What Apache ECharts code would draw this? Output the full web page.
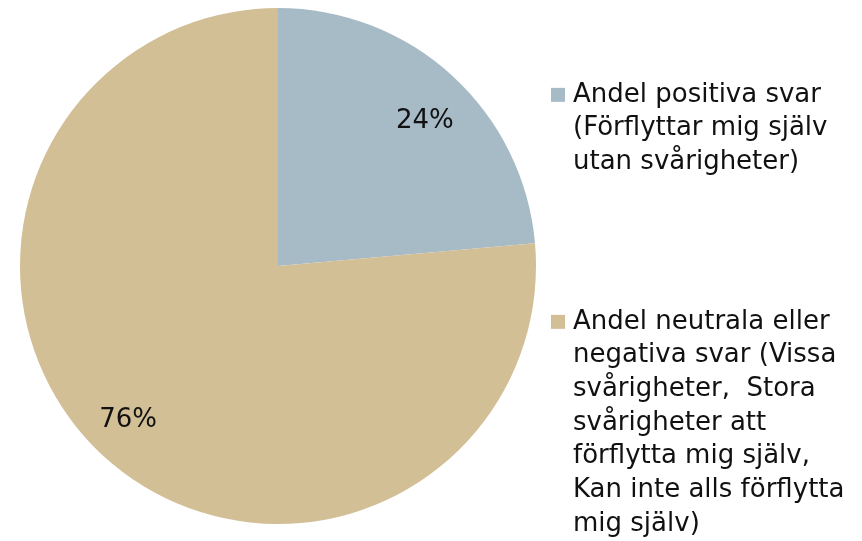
<!DOCTYPE html>
<html>
<head>
<meta charset="utf-8">
<script src="https://cdn.jsdelivr.net/npm/echarts@6/dist/echarts.min.js"></script>
<style>
  html, body { margin: 0; padding: 0; background: #fff; }
  #chart { width: 862px; height: 541px; }
</style>
</head>
<body>
<div id="chart"></div>
<script>
// data
const categories = ['Andel positiva svar', 'Andel neutrala eller negativa svar'];
const shares = [23.6, 76.4];
const legendLines = [
  ['Andel positiva svar', '(Förflyttar mig själv', 'utan svårigheter)'],
  ['Andel neutrala eller', 'negativa svar (Vissa', 'svårigheter,  Stora', 'svårigheter att',
   'förflytta mig själv,', 'Kan inte alls förflytta', 'mig själv)']
];
const colors = ['#A7BBC6', '#D3BF96'];

const font = '"DejaVu Sans", sans-serif';
const chart = echarts.init(document.getElementById('chart'));

const pieData = categories.map((name, i) => ({ name: name, value: shares[i] }));

// small nudges so the percent labels sit where the original had them
const labelData = pieData.map((d, i) => ({
  name: d.name,
  value: d.value,
  label: { offset: i === 0 ? [3, 12] : [-6, -3] }
}));

// legend text: square on first line, the rest indented under it
const legendText = (name) => {
  const i = categories.indexOf(name);
  return legendLines[i]
    .map((line, k) => (k === 0 ? '{sq' + i + '|}{g|}' : '{ind|}') + line)
    .join('\n');
};

// one legend per item so the tall second entry is not wrapped off screen
const legends = categories.map((name, i) => ({
  orient: 'vertical',
  left: 541,
  top: i === 0 ? 73 : 300,
  icon: 'none',
  itemWidth: 0,
  itemHeight: 14,
  selectedMode: false,
  data: [name],
  formatter: legendText,
  textStyle: {
    fontFamily: font,
    fontSize: 26,
    lineHeight: 33.7,
    color: '#111',
    rich: {
      sq0: { width: 14, height: 14, backgroundColor: colors[0] },
      sq1: { width: 14, height: 14, backgroundColor: colors[1] },
      g: { width: 8 },
      ind: { width: 22 }
    }
  }
}));

const option = {
  animation: false,
  color: colors,
  legend: legends,
  series: [
    {
      type: 'pie',
      center: [278, 266],
      radius: [0, 258],
      startAngle: 90,
      clockwise: true,
      silent: true,
      label: { show: false },
      labelLine: { show: false },
      itemStyle: { borderWidth: 0 },
      data: pieData
    },
    {
      // transparent ring only to place the percent labels near the rim
      type: 'pie',
      center: [278, 266],
      radius: [162, 258],
      startAngle: 90,
      clockwise: true,
      silent: true,
      itemStyle: { color: 'transparent', borderWidth: 0 },
      label: {
        show: true,
        position: 'inside',
        formatter: (p) => Math.round(p.value) + '%',
        fontFamily: font,
        fontSize: 26,
        color: '#111'
      },
      labelLine: { show: false },
      data: labelData
    }
  ]
};

chart.setOption(option);
</script>
</body>
</html>
